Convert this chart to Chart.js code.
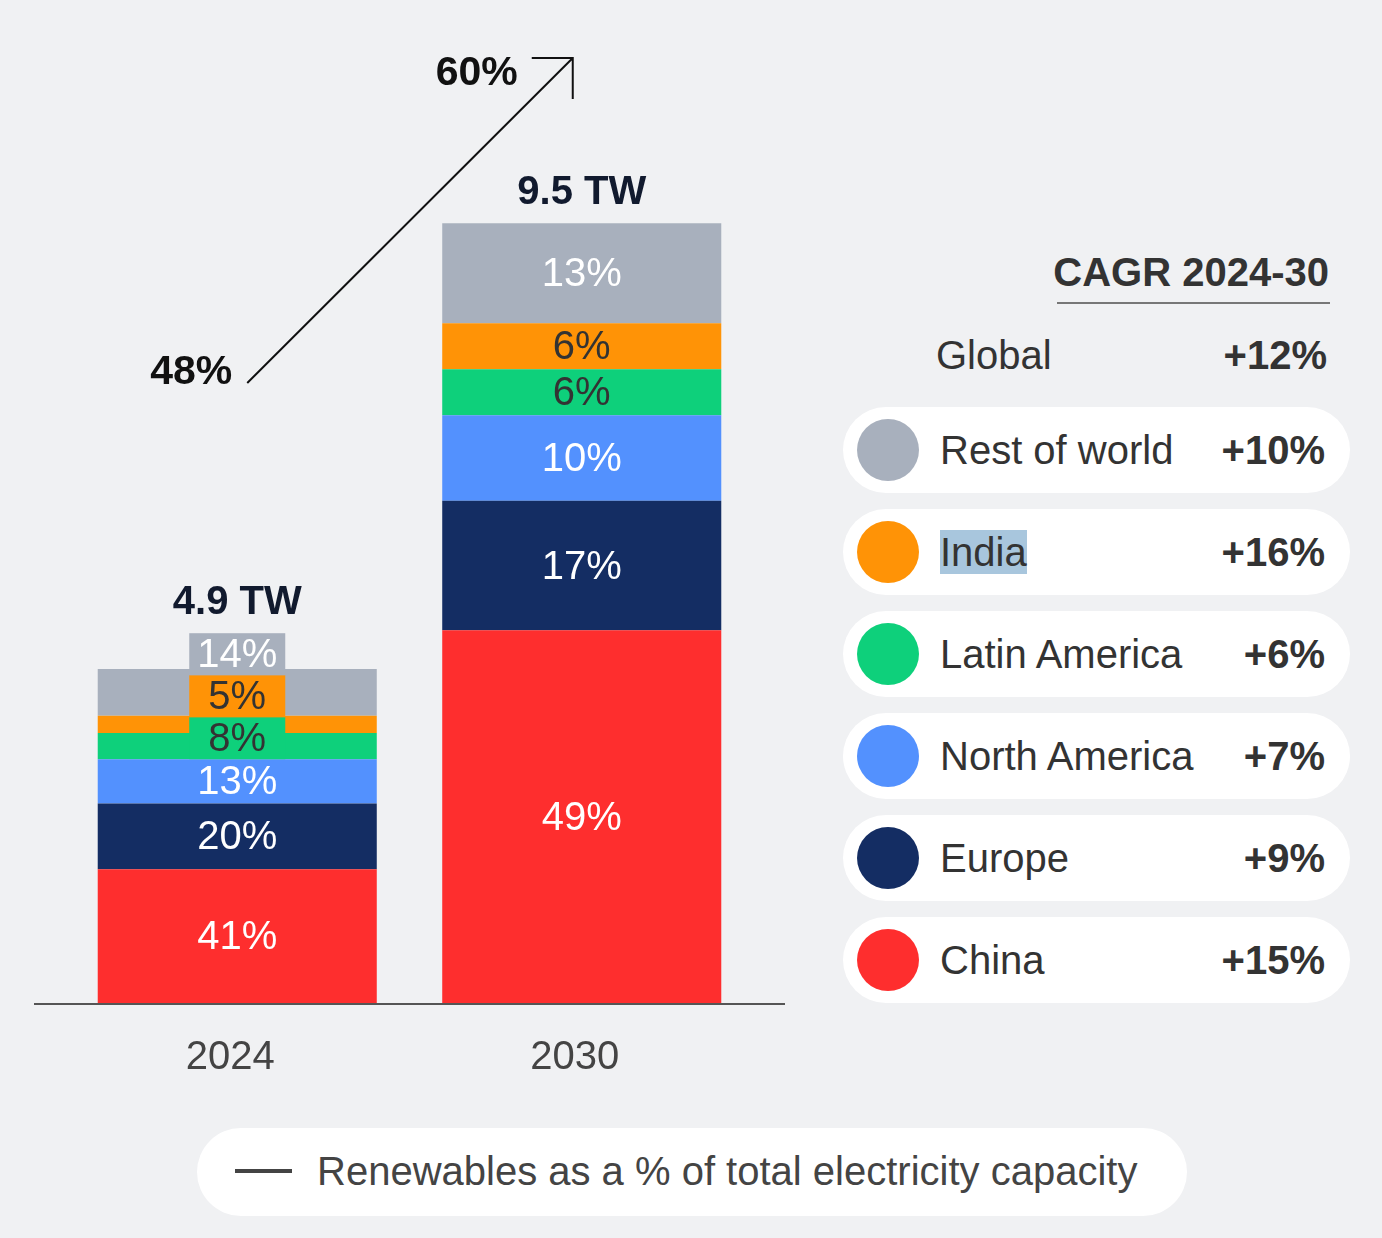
<!DOCTYPE html>
<html>
<head>
<meta charset="utf-8">
<script src="https://cdn.jsdelivr.net/npm/chart.js@4"></script>
<style>
  html, body { margin: 0; padding: 0; background: #f0f1f3; }
  body { width: 1382px; height: 1238px; position: relative; overflow: hidden;
         font-family: 'Liberation Sans', Arial, sans-serif; color: #333; }
  #chartBox { position: absolute; left: 0; top: 0; width: 800px; height: 1135px; }
  .head { position: absolute; right: 53px; top: 248px; font-size: 40px; font-weight: bold; color: #333;
          line-height: 48px; }
  .headLine { position: absolute; left: 1057px; width: 273px; top: 302px; height: 2px; background: #777; }
  .globalRow { position: absolute; left: 936px; width: 391px; top: 331px; height: 48px; font-size: 40px; line-height: 48px; }
  .globalRow .val { position: absolute; right: 0; top: 0; font-weight: bold; }
  .pill { position: absolute; left: 843px; width: 507px; height: 86px; border-radius: 43px; background: #fff; }
  .pill .dot { position: absolute; left: 14px; top: 12px; width: 62px; height: 62px; border-radius: 50%; }
  .pill .name { position: absolute; left: 97px; top: 19px; font-size: 40px; line-height: 48px; color: #333; }
  .pill .val { position: absolute; right: 25px; top: 19px; font-size: 40px; line-height: 48px; font-weight: bold; color: #333; }
  .sel { background: #a8c6dd; }
  .note { position: absolute; left: 197px; top: 1128px; width: 990px; height: 88px; border-radius: 44px; background: #fff; }
  .note .dash { position: absolute; left: 38px; top: 41px; width: 57px; height: 4px; background: #444; }
  .note .txt { position: absolute; left: 120px; top: 19px; font-size: 40px; line-height: 48px; color: #444; }
</style>
</head>
<body>
<div id="chartBox"><canvas id="myChart"></canvas></div>
<div class="head">CAGR 2024-30</div>
<div class="headLine"></div>
<div class="globalRow">Global<span class="val" id="globalVal"></span></div>
<div id="legend"></div>
<div class="note"><div class="dash"></div><div class="txt">Renewables as a % of total electricity capacity</div></div>

<script>
// categories
const years = ['2024', '2030'];
// regions, bottom of the stack first
const regions = ['China', 'Europe', 'North America', 'Latin America', 'India', 'Rest of world'];
const colors = ['#fe2e2e', '#142d63', '#5391fe', '#0ed07b', '#ff9306', '#a8b0bd'];

// segment sizes in TW as drawn (2024 bar in the source is not to scale with its 4.9 TW label)
const china = [1.63, 4.54];
const europe = [0.80, 1.58];
const northAmerica = [0.54, 1.04];
const latinAmerica = [0.32, 0.56];
const india = [0.21, 0.56];
const restOfWorld = [0.57, 1.22];

// shares written on the segments (%)
const shareChina = [41, 49];
const shareEurope = [20, 17];
const shareNorthAmerica = [13, 10];
const shareLatinAmerica = [8, 6];
const shareIndia = [5, 6];
const shareRest = [14, 13];

const totalLabels = ['4.9 TW', '9.5 TW'];
const renewShare = ['48%', '60%'];

// CAGR 2024-30
const cagrGlobal = '+12%';
const cagr = ['+15%', '+9%', '+7%', '+6%', '+16%', '+10%'];

const values = [china, europe, northAmerica, latinAmerica, india, restOfWorld];
const shares = [shareChina, shareEurope, shareNorthAmerica, shareLatinAmerica, shareIndia, shareRest];
const darkText = [false, false, false, true, true, false];

const FONT = "'Liberation Sans', Arial, sans-serif";

// legend pills, top row is the top of the stack
document.getElementById('globalVal').textContent = cagrGlobal;
const legend = document.getElementById('legend');
for (let i = regions.length - 1, row = 0; i >= 0; i--, row++) {
    const pill = document.createElement('div');
    pill.className = 'pill';
    pill.style.top = (407 + row * 102) + 'px';
    const name = regions[i] === 'India' ? '<span class="sel">India</span>' : regions[i];
    pill.innerHTML = '<div class="dot" style="background:' + colors[i] + '"></div>' +
        '<div class="name">' + name + '</div><div class="val">' + cagr[i] + '</div>';
    legend.appendChild(pill);
}

// labels inside segments, small 2024 segments get stacked boxes
const segmentLabels = {
    id: 'segmentLabels',
    afterDatasetsDraw(chart) {
        const ctx = chart.ctx;
        ctx.save();
        ctx.textAlign = 'center';
        ctx.textBaseline = 'middle';
        years.forEach((y, j) => {
            let top = chart.getDatasetMeta(values.length - 1).data[j].y;
            let boxBottom = null;
            ctx.font = '40px ' + FONT;
            values.forEach((v, i) => {
                const el = chart.getDatasetMeta(i).data[j];
                let cy = (el.y + el.base) / 2;
                if (j === 0 && i >= 3) {
                    if (boxBottom === null) boxBottom = chart.getDatasetMeta(2).data[j].y;
                    const h = 42;
                    ctx.fillStyle = colors[i];
                    ctx.fillRect(el.x - 48, boxBottom - h, 96, h);
                    cy = boxBottom - h / 2;
                    boxBottom -= h;
                    top = Math.min(top, boxBottom);
                }
                ctx.fillStyle = darkText[i] ? '#333' : '#fff';
                ctx.fillText(shares[i][j] + '%', el.x, cy + 2);
            });
            ctx.font = 'bold 40px ' + FONT;
            ctx.fillStyle = '#111a2e';
            const x = chart.getDatasetMeta(0).data[j].x;
            ctx.fillText(totalLabels[j], x, top - 30);
        });
        ctx.restore();
    }
};

// baseline and the renewables arrow
const extras = {
    id: 'extras',
    afterDraw(chart) {
        const ctx = chart.ctx;
        const a = chart.chartArea;
        ctx.save();
        ctx.strokeStyle = '#555';
        ctx.lineWidth = 2;
        ctx.beginPath();
        ctx.moveTo(a.left - 31, a.bottom + 1);
        ctx.lineTo(a.right + 31, a.bottom + 1);
        ctx.stroke();

        const x0 = chart.getDatasetMeta(0).data[0].x;
        const x1 = chart.getDatasetMeta(0).data[1].x;
        ctx.strokeStyle = '#111';
        ctx.lineWidth = 2;
        ctx.beginPath();
        ctx.moveTo(x0 + 10, 383);
        ctx.lineTo(x1 - 9, 58);
        ctx.moveTo(x1 - 50, 58);
        ctx.lineTo(x1 - 9, 58);
        ctx.lineTo(x1 - 9, 99);
        ctx.stroke();
        ctx.fillStyle = '#111';
        ctx.font = 'bold 41px ' + FONT;
        ctx.textBaseline = 'middle';
        ctx.textAlign = 'right';
        ctx.fillText(renewShare[0], x0 - 5, 373);
        ctx.fillText(renewShare[1], x1 - 64, 74);
        ctx.restore();
    }
};

const ctx = document.getElementById('myChart').getContext('2d');
const myChart = new Chart(ctx, {
    type: 'bar',
    data: {
        labels: years,
        datasets: regions.map((r, i) => ({
            label: r,
            data: values[i],
            backgroundColor: colors[i],
            borderWidth: 0,
            barPercentage: 0.81,
            categoryPercentage: 1
        }))
    },
    options: {
        responsive: true,
        maintainAspectRatio: false,
        animation: false,
        layout: { padding: { left: 65, right: 46, top: 18, bottom: 22 } },
        plugins: { legend: { display: false }, tooltip: { enabled: false } },
        scales: {
            x: {
                stacked: true,
                grid: { display: false, drawTicks: false },
                border: { display: false },
                ticks: { color: '#444', font: { family: FONT, size: 40 }, padding: 31, labelOffset: -7 }
            },
            y: { stacked: true, display: false, min: 0, max: 12 }
        }
    },
    plugins: [segmentLabels, extras]
});
</script>
</body>
</html>
